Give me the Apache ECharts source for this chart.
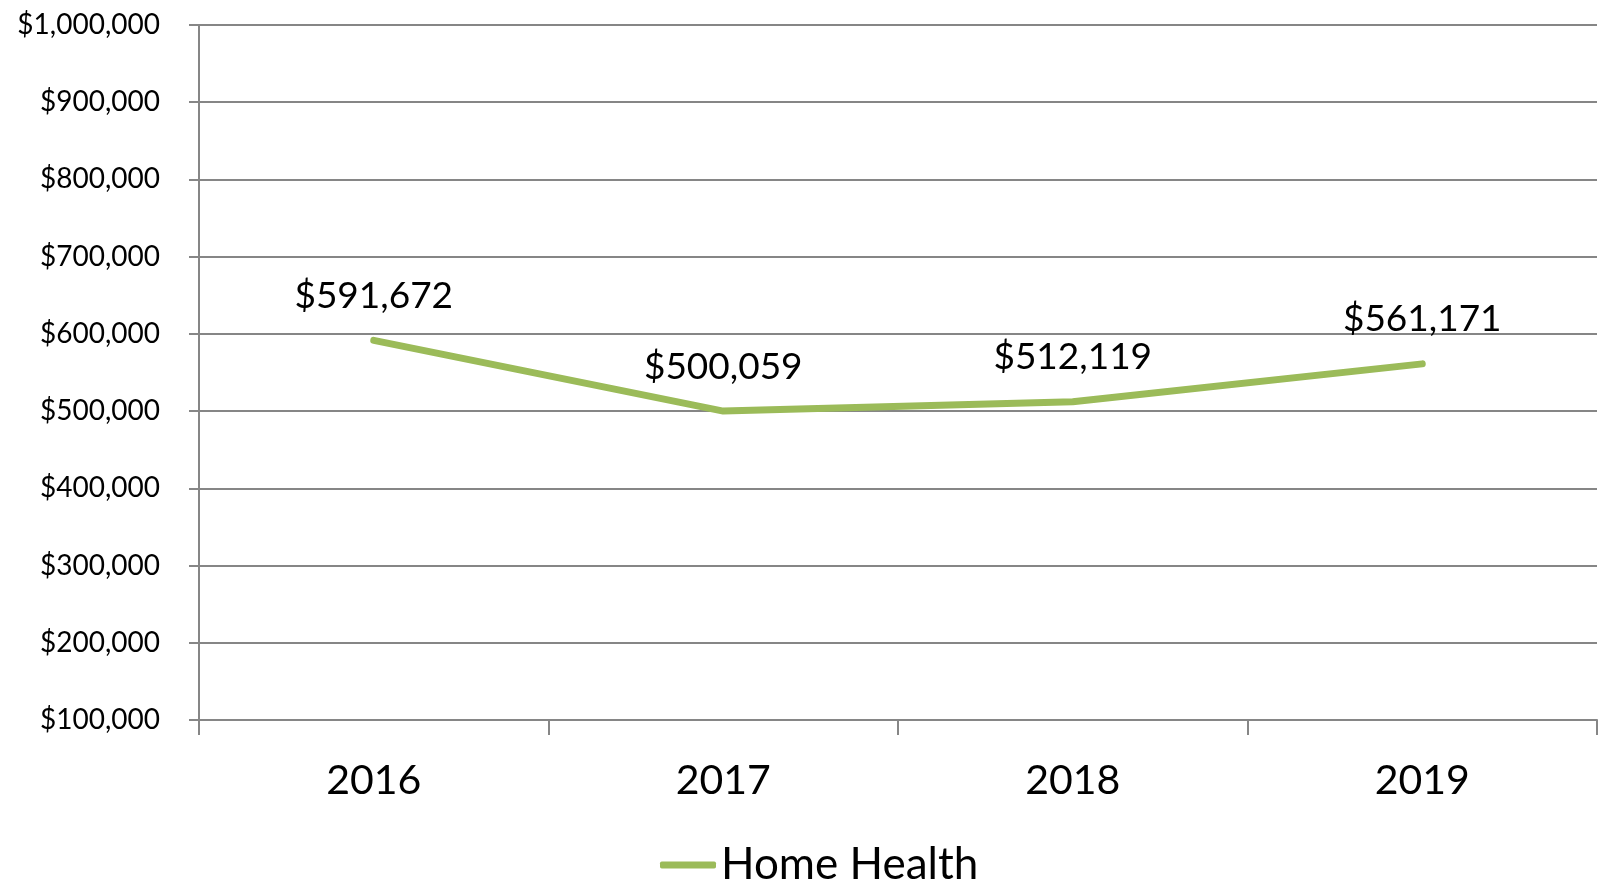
<!DOCTYPE html>
<html>
<head>
<meta charset="utf-8">
<script src="https://cdn.jsdelivr.net/npm/echarts@6/dist/echarts.min.js"></script>
<style>
  html, body { margin: 0; padding: 0; background: #fff; }
  #chart { width: 1602px; height: 882px; }
</style>
</head>
<body>
<div id="chart"></div>
<script>
// 年份与金额
const years = ['2016', '2017', '2018', '2019'];
const homeHealth = [591672, 500059, 512119, 561171];
const seriesName = 'Home Health';

const money = (v) => '$' + Number(v).toLocaleString('en-US');

const chart = echarts.init(document.getElementById('chart'));

const option = {
  backgroundColor: '#fff',
  animation: false,
  textStyle: { fontFamily: 'Lato', color: '#000' },
  grid: { left: 199, right: 5, top: 25, bottom: 162 },
  legend: {
    data: [seriesName],
    left: 655,
    top: 838,
    icon: 'roundRect',
    itemWidth: 56,
    itemHeight: 7,
    textStyle: { fontSize: 44, color: '#000', fontFamily: 'Lato' },
  },
  xAxis: {
    type: 'category',
    data: years,
    boundaryGap: true,
    axisLine: { lineStyle: { color: '#868686', width: 2 } },
    axisTick: { show: true, length: 15, lineStyle: { color: '#868686', width: 2 } },
    axisLabel: { fontSize: 41, color: '#000', margin: 40, fontFamily: 'Lato' },
  },
  yAxis: {
    type: 'value',
    min: 100000,
    max: 1000000,
    interval: 100000,
    axisLine: { show: true, lineStyle: { color: '#868686', width: 2 } },
    axisTick: { show: true, length: 10, lineStyle: { color: '#868686', width: 2 } },
    axisLabel: { fontSize: 28, color: '#000', margin: 39, formatter: money, fontFamily: 'Lato' },
    splitLine: { show: true, lineStyle: { color: '#868686', width: 2 } },
  },
  series: [
    {
      name: seriesName,
      type: 'line',
      data: homeHealth,
      symbol: 'circle',
      symbolSize: 0,
      showSymbol: true,
      lineStyle: { color: '#9BBB59', width: 7, cap: 'round', join: 'round' },
      itemStyle: { color: '#9BBB59' },
      label: {
        show: true,
        position: 'top',
        distance: 26,
        fontSize: 37,
        color: '#000',
        fontFamily: 'Lato',
        formatter: (p) => money(p.value),
      },
    },
  ],
};

chart.setOption(option);
</script>
</body>
</html>
